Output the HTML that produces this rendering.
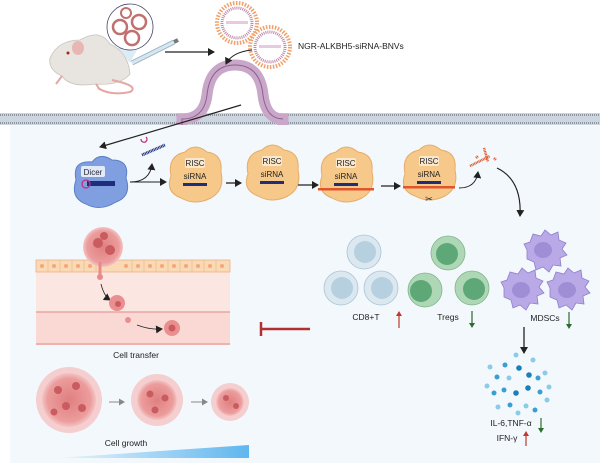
<!DOCTYPE html>
<html><head><meta charset="utf-8"><style>
html,body{margin:0;padding:0;background:#fff;}
svg{display:block;font-family:"Liberation Sans",sans-serif;}
</style></head><body>
<svg width="600" height="463" viewBox="0 0 600 463" xmlns="http://www.w3.org/2000/svg">
<defs>
<marker id="ah" markerWidth="8" markerHeight="8" refX="6" refY="4" orient="auto" markerUnits="userSpaceOnUse"><path d="M0,0 L7,4 L0,8 z" fill="#222"/></marker>
<marker id="ahg" markerWidth="7" markerHeight="7" refX="5" refY="3.5" orient="auto" markerUnits="userSpaceOnUse"><path d="M0,0 L6,3.5 L0,7 z" fill="#888"/></marker>
<linearGradient id="gr" x1="0" x2="1"><stop offset="0" stop-color="#eaf5fd"/><stop offset="1" stop-color="#5fb6ef"/></linearGradient>
<radialGradient id="tum"><stop offset="0" stop-color="#e07f80"/><stop offset="0.8" stop-color="#ec9c9c"/><stop offset="1" stop-color="#f4c4c4"/></radialGradient>
</defs>
<!-- cell interior -->
<rect x="10" y="125" width="590" height="338" fill="#f3f8fc"/>
<!-- membrane -->
<rect x="0" y="113" width="600" height="12" fill="#cdd6de"/>
<line x1="0" y1="115" x2="600" y2="115" stroke="#8a97a3" stroke-width="2" stroke-dasharray="1 1"/>
<line x1="0" y1="123" x2="600" y2="123" stroke="#8a97a3" stroke-width="2" stroke-dasharray="1 1"/>
<!-- arch -->
<path d="M182,125 L182,119 Q204,119 207,95 Q210,65 235,65 Q260,65 263,95 Q266,119 283,119 L283,125" fill="none" stroke="#c9a7c9" stroke-width="11"/>
<path d="M182,125 L182,119 Q204,119 207,95 Q210,65 235,65 Q260,65 263,95 Q266,119 283,119" fill="none" stroke="#8e5f8e" stroke-width="1"/>
<rect x="212" y="100" width="46" height="25" fill="#fff" opacity="0"/>
<!-- mouse -->
<g>
<path d="M50,58 Q58,40 80,40 Q100,28 110,44 Q128,52 130,74 Q120,86 95,84 Q70,88 62,76 Q48,70 50,58z" fill="#e8e4df" stroke="#c9c2ba" stroke-width="0.8"/>
<ellipse cx="78" cy="48" rx="6" ry="7" fill="#e8b7b3"/>
<circle cx="68" cy="53" r="1.5" fill="#a22"/>
<path d="M112,80 Q140,86 130,92 Q110,96 98,88" fill="none" stroke="#e3a7a4" stroke-width="2"/>
<path d="M62,76 l-6,8 M96,84 l4,6" stroke="#e3a7a4" stroke-width="2"/>
</g>
<!-- inset -->
<path d="M118,48 L130,63 L138,48z" fill="#cfe3f1" opacity="0.7"/>
<circle cx="130" cy="27" r="23" fill="#fff" stroke="#446" stroke-width="0.8"/>
<circle cx="120" cy="27" r="7" fill="none" stroke="#c0706f" stroke-width="2.5"/>
<circle cx="139" cy="22" r="7" fill="none" stroke="#c0706f" stroke-width="2.5"/>
<circle cx="132" cy="38" r="7" fill="none" stroke="#c0706f" stroke-width="2.5"/>
<circle cx="126" cy="13" r="5" fill="none" stroke="#c0706f" stroke-width="2"/>
<!-- syringe -->
<line x1="132" y1="63" x2="174" y2="42" stroke="#9bb7c8" stroke-width="5"/>
<line x1="132" y1="63" x2="174" y2="42" stroke="#d8e7ef" stroke-width="3"/>
<line x1="174" y1="42" x2="178" y2="40" stroke="#777" stroke-width="4"/>
<line x1="165" y1="52" x2="214" y2="52" stroke="#222" stroke-width="1.2" marker-end="url(#ah)"/>
<!-- vesicles -->
<g>
<circle cx="237" cy="23" r="20" fill="#fff" stroke="#f0a068" stroke-width="4" stroke-dasharray="1.5 1.5"/>
<circle cx="237" cy="23" r="15" fill="#fff" stroke="#c088a8" stroke-width="3" stroke-dasharray="1 1"/>
<rect x="226" y="21" width="22" height="3" fill="#e9c9e0"/>
<circle cx="270" cy="47" r="20" fill="#fff" stroke="#f0a068" stroke-width="4" stroke-dasharray="1.5 1.5"/>
<circle cx="270" cy="47" r="15" fill="#fff" stroke="#c088a8" stroke-width="3" stroke-dasharray="1 1"/>
<rect x="259" y="45" width="22" height="3" fill="#e9c9e0"/>
</g>
<text x="298" y="49" font-size="8.5" fill="#222">NGR-ALKBH5-siRNA-BNVs</text>
<path d="M252,50 Q232,52 226,64" fill="none" stroke="#222" stroke-width="1" marker-end="url(#ah)"/>
<!-- arrow into cell -->
<line x1="241" y1="105" x2="100" y2="147" stroke="#222" stroke-width="1.2" marker-end="url(#ah)"/>
<!-- Dicer -->
<path d="M76,180 Q72,160 92,162 Q100,152 112,160 Q130,160 126,178 Q132,196 116,202 Q100,212 86,204 Q70,198 76,180z" fill="#7f9fe0" stroke="#5c7fc8" stroke-width="1"/>
<rect x="81" y="166" width="24" height="11" rx="2" fill="#e3ebf8"/>
<text x="93" y="175" font-size="8" text-anchor="middle" fill="#223">Dicer</text>
<rect x="87" y="181" width="28" height="5" fill="#1e2e7a"/>
<circle cx="86" cy="184" r="4" fill="none" stroke="#c03080" stroke-width="1.3"/>
<path d="M141,139 a3,3 0 1 0 5,-2" fill="none" stroke="#c03080" stroke-width="1.2"/>
<line x1="142" y1="155" x2="165" y2="145" stroke="#1e2e7a" stroke-width="3" stroke-dasharray="1 0.6"/>
<path d="M130,182 Q150,182 152,164" fill="none" stroke="#222" stroke-width="1" marker-end="url(#ah)"/>
<line x1="130" y1="182" x2="166" y2="182" stroke="#222" stroke-width="1" marker-end="url(#ah)"/>
<!-- RISC complexes -->
<g id="r">
</g>
<g font-size="8" fill="#222" text-anchor="middle">
<g transform="translate(195,176)">
<path d="M-24,0 Q-28,-20 -10,-24 Q0,-34 12,-24 Q28,-22 26,-4 Q30,14 16,22 Q0,30 -14,22 Q-30,16 -24,0z" fill="#f6c889" stroke="#e5ad6a" stroke-width="1"/>
<rect x="-10" y="-18" width="20" height="10" rx="2" fill="#fbe8cc"/><text x="0" y="-10">RISC</text><text x="0" y="3">siRNA</text>
<rect x="-12" y="7" width="24" height="3" fill="#1e2e7a"/></g>
<g transform="translate(272,174)">
<path d="M-24,0 Q-28,-20 -10,-24 Q0,-34 12,-24 Q28,-22 26,-4 Q30,14 16,22 Q0,30 -14,22 Q-30,16 -24,0z" fill="#f6c889" stroke="#e5ad6a" stroke-width="1"/>
<rect x="-10" y="-18" width="20" height="10" rx="2" fill="#fbe8cc"/><text x="0" y="-10">RISC</text><text x="0" y="3">siRNA</text>
<rect x="-12" y="7" width="24" height="3" fill="#1e2e7a"/></g>
<g transform="translate(346,176)">
<path d="M-24,0 Q-28,-20 -10,-24 Q0,-34 12,-24 Q28,-22 26,-4 Q30,14 16,22 Q0,30 -14,22 Q-30,16 -24,0z" fill="#f6c889" stroke="#e5ad6a" stroke-width="1"/>
<rect x="-10" y="-18" width="20" height="10" rx="2" fill="#fbe8cc"/><text x="0" y="-10">RISC</text><text x="0" y="3">siRNA</text>
<rect x="-12" y="7" width="24" height="3" fill="#1e2e7a"/>
<rect x="-28" y="12" width="56" height="2.5" fill="#e0562a"/></g>
<g transform="translate(429,174)">
<path d="M-24,0 Q-28,-20 -10,-24 Q0,-34 12,-24 Q28,-22 26,-4 Q30,14 16,22 Q0,30 -14,22 Q-30,16 -24,0z" fill="#f6c889" stroke="#e5ad6a" stroke-width="1"/>
<rect x="-10" y="-18" width="20" height="10" rx="2" fill="#fbe8cc"/><text x="0" y="-10">RISC</text><text x="0" y="3">siRNA</text>
<rect x="-12" y="7" width="24" height="3" fill="#1e2e7a"/>
<rect x="-26" y="12" width="52" height="2.5" fill="#e0562a"/>
<text x="0" y="28" font-size="9">✂</text></g>
</g>
<line x1="226" y1="183" x2="241" y2="183" stroke="#222" stroke-width="1.3" marker-end="url(#ah)"/>
<line x1="298" y1="185" x2="318" y2="185" stroke="#222" stroke-width="1.3" marker-end="url(#ah)"/>
<line x1="381" y1="186" x2="400" y2="186" stroke="#222" stroke-width="1.3" marker-end="url(#ah)"/>
<path d="M459,188 Q476,188 478,172" fill="none" stroke="#222" stroke-width="1" marker-end="url(#ah)"/>
<path d="M470,166 L490,156 M484,148 L488,162 M476,158 l2,-2 M494,158 l2,2" stroke="#e0562a" stroke-width="2.5" stroke-dasharray="1 0.6"/>
<path d="M497,168 Q522,180 520,216" fill="none" stroke="#222" stroke-width="1.2" marker-end="url(#ah)"/>
<!-- tissue -->
<rect x="36" y="272" width="194" height="73" fill="#fce6e2"/>
<rect x="36" y="312" width="194" height="33" fill="#fad9d5"/>
<line x1="36" y1="312" x2="230" y2="312" stroke="#e8a5a0" stroke-width="1.5"/>
<line x1="36" y1="344" x2="230" y2="344" stroke="#e8a5a0" stroke-width="1.5"/>
<rect x="36" y="260" width="194" height="12" fill="#fbd9b5" stroke="#e6b588" stroke-width="0.8"/>
<g fill="#f1a77a">
<circle cx="42" cy="266" r="2"/><circle cx="54" cy="266" r="2"/><circle cx="66" cy="266" r="2"/><circle cx="78" cy="266" r="2"/><circle cx="90" cy="266" r="2"/><circle cx="126" cy="266" r="2"/><circle cx="138" cy="266" r="2"/><circle cx="150" cy="266" r="2"/><circle cx="162" cy="266" r="2"/><circle cx="174" cy="266" r="2"/><circle cx="186" cy="266" r="2"/><circle cx="198" cy="266" r="2"/><circle cx="210" cy="266" r="2"/><circle cx="222" cy="266" r="2"/>
</g>
<g stroke="#e6b588" stroke-width="0.6"><path d="M48,260v12M60,260v12M72,260v12M84,260v12M96,260v12M132,260v12M144,260v12M156,260v12M168,260v12M180,260v12M192,260v12M204,260v12M216,260v12"/></g>
<circle cx="103" cy="247" r="20" fill="url(#tum)"/>
<circle cx="98" cy="243" r="5" fill="#c95c60"/><circle cx="110" cy="250" r="5" fill="#c95c60"/><circle cx="104" cy="236" r="4" fill="#c95c60"/>
<path d="M100,262 L100,276" stroke="#e88a8a" stroke-width="3"/>
<circle cx="100" cy="277" r="3" fill="#e88a8a"/>
<path d="M101,284 Q104,296 110,300" fill="none" stroke="#222" stroke-width="0.8" marker-end="url(#ah)"/>
<circle cx="117" cy="303" r="8" fill="#ea8f8f"/><circle cx="118" cy="304" r="3" fill="#c95c60"/>
<circle cx="128" cy="320" r="3" fill="#ea8f8f"/>
<path d="M137,325 Q150,330 162,329" fill="none" stroke="#222" stroke-width="0.8" marker-end="url(#ah)"/>
<circle cx="172" cy="328" r="8" fill="#ea8f8f"/><circle cx="172" cy="328" r="3.5" fill="#c95c60"/>
<text x="136" y="358" font-size="8.5" text-anchor="middle" fill="#222">Cell transfer</text>
<!-- inhibitor -->
<line x1="261" y1="329" x2="310" y2="329" stroke="#b23030" stroke-width="2.5"/>
<line x1="261" y1="322" x2="261" y2="336" stroke="#b23030" stroke-width="2.5"/>
<!-- tumors -->
<circle cx="69" cy="400" r="33" fill="#f5cfcf"/><circle cx="69" cy="400" r="27" fill="url(#tum)"/>
<g fill="#c95c60"><circle cx="58" cy="390" r="4"/><circle cx="76" cy="386" r="4"/><circle cx="66" cy="406" r="4"/><circle cx="82" cy="408" r="4"/><circle cx="54" cy="412" r="3.5"/></g>
<circle cx="157" cy="400" r="26" fill="#f5cfcf"/><circle cx="157" cy="400" r="20" fill="url(#tum)"/>
<g fill="#c95c60"><circle cx="150" cy="394" r="3.5"/><circle cx="165" cy="398" r="3.5"/><circle cx="155" cy="410" r="3.5"/></g>
<circle cx="230" cy="402" r="19" fill="#f5cfcf"/><circle cx="230" cy="402" r="14" fill="url(#tum)"/>
<g fill="#c95c60"><circle cx="226" cy="398" r="3"/><circle cx="236" cy="406" r="3"/></g>
<line x1="109" y1="402" x2="124" y2="402" stroke="#888" stroke-width="1" marker-end="url(#ahg)"/>
<line x1="191" y1="402" x2="207" y2="402" stroke="#888" stroke-width="1" marker-end="url(#ahg)"/>
<text x="126" y="446" font-size="8.5" text-anchor="middle" fill="#222">Cell growth</text>
<polygon points="57,458 249,445 249,458" fill="url(#gr)"/>
<!-- CD8 -->
<g fill="#dbe8f0" stroke="#a9c3d6" stroke-width="0.8">
<circle cx="364" cy="252" r="17"/><circle cx="341" cy="288" r="17"/><circle cx="381" cy="288" r="17"/></g>
<g fill="#b7d0e0"><circle cx="365" cy="252" r="11"/><circle cx="342" cy="288" r="11"/><circle cx="382" cy="288" r="11"/></g>
<text x="366" y="320" font-size="8.5" text-anchor="middle" fill="#222">CD8+T</text>
<line x1="399" y1="328" x2="399" y2="313" stroke="#c0392b" stroke-width="1.2"/><path d="M396,316 L399,311 L402,316z" fill="#c0392b"/>
<!-- Tregs -->
<g fill="#aed7b5" stroke="#7fb58b" stroke-width="0.8">
<circle cx="448" cy="253" r="17"/><circle cx="425" cy="290" r="17"/><circle cx="472" cy="288" r="17"/></g>
<g fill="#5ea878"><circle cx="447" cy="254" r="11"/><circle cx="421" cy="291" r="11"/><circle cx="474" cy="289" r="11"/></g>
<text x="448" y="320" font-size="8.5" text-anchor="middle" fill="#222">Tregs</text>
<line x1="472" y1="311" x2="472" y2="326" stroke="#2e6b2e" stroke-width="1.2"/><path d="M469,323 L472,328 L475,323z" fill="#2e6b2e"/>
<!-- MDSCs -->
<g fill="#b9a9e6" stroke="#8f7fcc" stroke-width="0.8">
<path d="M527,250 l-3,-6 6,-2 3,-8 8,2 4,-6 6,5 7,-3 1,8 7,3 -4,6 5,6 -7,3 1,8 -8,-1 -4,7 -6,-5 -7,3 -2,-8 -7,-3z"/>
<path d="M504,288 l-3,-6 6,-2 3,-8 8,2 4,-6 6,5 7,-3 1,8 7,3 -4,6 5,6 -7,3 1,8 -8,-1 -4,7 -6,-5 -7,3 -2,-8 -7,-3z"/>
<path d="M550,288 l-3,-6 6,-2 3,-8 8,2 4,-6 6,5 7,-3 1,8 7,3 -4,6 5,6 -7,3 1,8 -8,-1 -4,7 -6,-5 -7,3 -2,-8 -7,-3z"/>
</g>
<g fill="#9f8ed6"><ellipse cx="543" cy="250" rx="9" ry="8"/><ellipse cx="521" cy="290" rx="9" ry="8"/><ellipse cx="567" cy="290" rx="9" ry="8"/></g>
<text x="545" y="321" font-size="8.5" text-anchor="middle" fill="#222">MDSCs</text>
<line x1="569" y1="312" x2="569" y2="327" stroke="#2e6b2e" stroke-width="1.2"/><path d="M566,324 L569,329 L572,324z" fill="#2e6b2e"/>
<line x1="524" y1="327" x2="524" y2="353" stroke="#222" stroke-width="1.3" marker-end="url(#ah)"/>
<!-- cytokines -->
<g>
<circle cx="516" cy="355" r="2.5" fill="#8ccbe8"/><circle cx="533" cy="360" r="2.5" fill="#8ccbe8"/>
<circle cx="490" cy="367" r="2.5" fill="#8ccbe8"/><circle cx="505" cy="365" r="2.5" fill="#3a9fd0"/><circle cx="519" cy="368" r="2.8" fill="#1b7fb8"/><circle cx="545" cy="373" r="2.5" fill="#8ccbe8"/>
<circle cx="497" cy="377" r="2.5" fill="#3a9fd0"/><circle cx="509" cy="378" r="2.5" fill="#8ccbe8"/><circle cx="529" cy="375" r="2.8" fill="#1b7fb8"/><circle cx="538" cy="378" r="2.5" fill="#3a9fd0"/>
<circle cx="487" cy="386" r="2.5" fill="#8ccbe8"/><circle cx="504" cy="390" r="2.5" fill="#3a9fd0"/><circle cx="528" cy="388" r="2.8" fill="#1b7fb8"/><circle cx="549" cy="387" r="2.5" fill="#8ccbe8"/>
<circle cx="494" cy="393" r="2.5" fill="#3a9fd0"/><circle cx="516" cy="393" r="2.8" fill="#1b7fb8"/><circle cx="540" cy="392" r="2.5" fill="#3a9fd0"/>
<circle cx="498" cy="407" r="2.5" fill="#8ccbe8"/><circle cx="510" cy="405" r="2.5" fill="#3a9fd0"/><circle cx="526" cy="406" r="2.5" fill="#8ccbe8"/><circle cx="547" cy="400" r="2.5" fill="#8ccbe8"/>
<circle cx="518" cy="413" r="2.5" fill="#8ccbe8"/><circle cx="535" cy="410" r="2.5" fill="#3a9fd0"/>
</g>
<text x="511" y="426" font-size="8.5" text-anchor="middle" fill="#222">IL-6,TNF-α</text>
<line x1="541" y1="418" x2="541" y2="431" stroke="#2e6b2e" stroke-width="1.2"/><path d="M538,428 L541,433 L544,428z" fill="#2e6b2e"/>
<text x="507" y="441" font-size="8.5" text-anchor="middle" fill="#222">IFN-γ</text>
<line x1="526" y1="446" x2="526" y2="433" stroke="#c0392b" stroke-width="1.2"/><path d="M523,436 L526,431 L529,436z" fill="#c0392b"/>
</svg>
</body></html>
